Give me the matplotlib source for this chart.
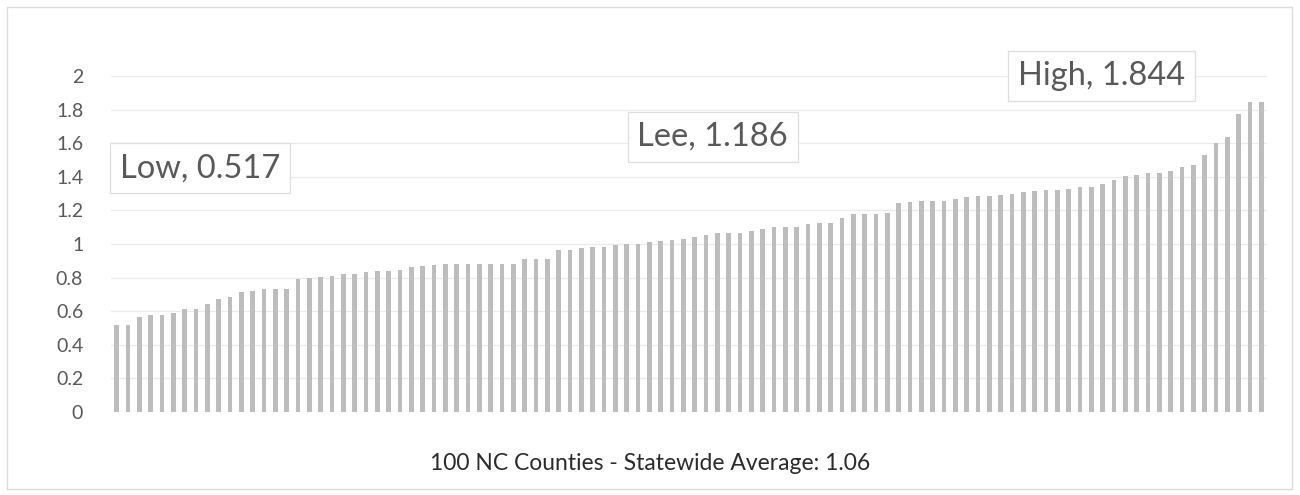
import matplotlib
matplotlib.use("Agg")
import matplotlib.pyplot as plt
from matplotlib.patches import Rectangle

# County values, sorted ascending
values = [
    0.517, 0.520, 0.564, 0.576, 0.576, 0.588, 0.615, 0.615, 0.641, 0.674,
    0.683, 0.713, 0.722, 0.730, 0.734, 0.734, 0.792, 0.798, 0.802, 0.810,
    0.820, 0.820, 0.835, 0.839, 0.841, 0.843, 0.865, 0.871, 0.873, 0.879,
    0.881, 0.881, 0.881, 0.881, 0.883, 0.883, 0.910, 0.913, 0.913, 0.963,
    0.964, 0.974, 0.984, 0.984, 0.995, 1.002, 1.002, 1.011, 1.018, 1.024,
    1.028, 1.040, 1.054, 1.063, 1.067, 1.067, 1.080, 1.087, 1.102, 1.103,
    1.103, 1.122, 1.127, 1.127, 1.154, 1.176, 1.176, 1.180, 1.186, 1.247,
    1.252, 1.255, 1.257, 1.257, 1.267, 1.282, 1.284, 1.287, 1.290, 1.297,
    1.312, 1.315, 1.319, 1.320, 1.328, 1.337, 1.337, 1.355, 1.381, 1.405,
    1.411, 1.421, 1.421, 1.433, 1.460, 1.470, 1.530, 1.603, 1.639, 1.774,
    1.844, 1.844,
]
lee_index = 68
y_ticks = [0, 0.2, 0.4, 0.6, 0.8, 1, 1.2, 1.4, 1.6, 1.8, 2]
y_tick_labels = ["0", "0.2", "0.4", "0.6", "0.8", "1", "1.2", "1.4", "1.6", "1.8", "2"]
x_title = "100 NC Counties - Statewide Average: 1.06"

plt.rcParams["font.family"] = ["Lato", "DejaVu Sans"]
text_gray = "#595959"
bar_gray = "#bdbdbd"
grid_gray = "#ebebeb"

fig = plt.figure(figsize=(13.0, 4.95), dpi=100)
W, H = 1300, 495

# chart-area border
fig.add_artist(Rectangle((7 / W, 6 / H), 1285 / W, 482 / H, transform=fig.transFigure,
                         fill=False, edgecolor="#dcdcdc", linewidth=1.0))

ax = fig.add_axes([111 / W, (H - 412) / H, 1156 / W, 336 / H])
x = list(range(len(values)))
ax.bar(x, values, width=0.44, color=bar_gray, zorder=2)

ax.set_xlim(-0.5, len(values) - 0.5)
ax.set_ylim(0, 2)
ax.set_yticks(y_ticks)
ax.set_yticklabels(y_tick_labels)
ax.tick_params(axis="y", length=0, pad=20, labelsize=14, labelcolor=text_gray)
ax.set_xticks([])
for s in ax.spines.values():
    s.set_visible(False)
for t in y_ticks:
    ax.axhline(t, color=grid_gray, linewidth=0.9, zorder=1)

box = dict(boxstyle="square,pad=0.3", facecolor="white", edgecolor="#dedede", linewidth=0.9)
lo = values[0]
hi = max(values)
lee = values[lee_index]
label_kw = dict(ha="center", va="center", fontsize=23.5, color=text_gray, bbox=box,
                zorder=5, clip_on=False)
ax.text(7.35, 1.452, f"Low, {lo:.3f}", **label_kw)
ax.text(52.6, 1.637, f"Lee, {lee:.3f}", **label_kw)
ax.text(86.9, 2.0, f"High, {hi:.3f}", **label_kw)

fig.text(650 / W, 1 - 463 / H, x_title, ha="center", va="center", fontsize=16.5,
         color="#2b2b2b")

fig.savefig("out.png", dpi=100, facecolor="white")
